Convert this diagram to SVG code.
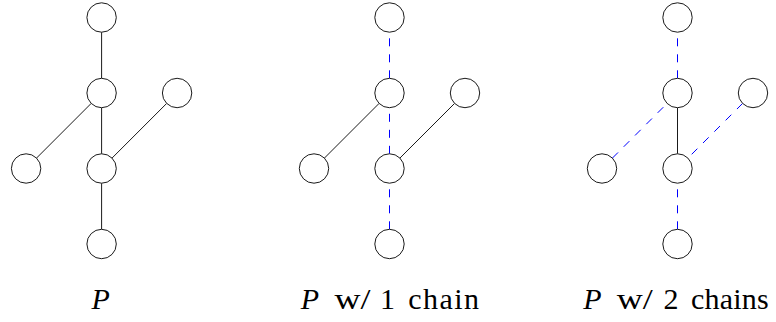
<svg xmlns="http://www.w3.org/2000/svg" width="776" height="322" viewBox="0 0 776 322">
<defs>
<style>
.n{fill:#ffffff;stroke:#000000;stroke-width:0.9}
.e{stroke:#000000;stroke-width:0.9}
.lbl{font-family:'Liberation Serif',serif;font-size:30px;fill:#000000}
</style>
</defs>
<rect width="776" height="322" fill="#ffffff"/>
<g id="connectors">
<line class="e" x1="101.6" y1="78.3" x2="101.6" y2="32.2"/>
<line class="e" x1="36.5" y1="158.1" x2="91.2" y2="103.4"/>
<line class="e" x1="101.6" y1="153.8" x2="101.6" y2="107.7"/>
<line class="e" x1="166.7" y1="103.4" x2="112" y2="158.1"/>
<line class="e" x1="101.6" y1="229.3" x2="101.6" y2="183.2"/>
<g stroke="#0000ff" stroke-width="1" stroke-dasharray="8 8" fill="none">
<line x1="389.5" y1="78.3" x2="389.5" y2="32.2"/>
<line x1="389.5" y1="153.8" x2="389.5" y2="107.7"/>
<line x1="389.5" y1="229.3" x2="389.5" y2="183.2"/>
<line x1="677.5" y1="78.3" x2="677.5" y2="32.2"/>
<line x1="612.4" y1="158.1" x2="667.1" y2="103.4"/>
<line x1="742.6" y1="103.4" x2="687.9" y2="158.1"/>
<line x1="677.5" y1="229.3" x2="677.5" y2="183.2"/>
</g>
<line class="e" x1="324.4" y1="158.1" x2="379.1" y2="103.4"/>
<line class="e" x1="454.6" y1="103.4" x2="399.9" y2="158.1"/>
<line class="e" x1="677.5" y1="153.8" x2="677.5" y2="107.7"/>
</g>
<g id="p1-top"><circle class="n" cx="101.6" cy="17.5" r="14.7"/></g>
<g id="p1-mid"><circle class="n" cx="101.6" cy="93" r="14.7"/></g>
<g id="p1-right"><circle class="n" cx="177.1" cy="93" r="14.7"/></g>
<g id="p1-left"><circle class="n" cx="26.1" cy="168.5" r="14.7"/></g>
<g id="p1-center"><circle class="n" cx="101.6" cy="168.5" r="14.7"/></g>
<g id="p1-bottom"><circle class="n" cx="101.6" cy="244" r="14.7"/></g>
<g id="p2-top"><circle class="n" cx="389.5" cy="17.5" r="14.7"/></g>
<g id="p2-mid"><circle class="n" cx="389.5" cy="93" r="14.7"/></g>
<g id="p2-right"><circle class="n" cx="465" cy="93" r="14.7"/></g>
<g id="p2-left"><circle class="n" cx="314" cy="168.5" r="14.7"/></g>
<g id="p2-center"><circle class="n" cx="389.5" cy="168.5" r="14.7"/></g>
<g id="p2-bottom"><circle class="n" cx="389.5" cy="244" r="14.7"/></g>
<g id="p3-top"><circle class="n" cx="677.5" cy="17.5" r="14.7"/></g>
<g id="p3-mid"><circle class="n" cx="677.5" cy="93" r="14.7"/></g>
<g id="p3-right"><circle class="n" cx="753" cy="93" r="14.7"/></g>
<g id="p3-left"><circle class="n" cx="602" cy="168.5" r="14.7"/></g>
<g id="p3-center"><circle class="n" cx="677.5" cy="168.5" r="14.7"/></g>
<g id="p3-bottom"><circle class="n" cx="677.5" cy="244" r="14.7"/></g>
<g id="labels">
<text class="lbl" x="91.5" y="309" font-family="Liberation Serif" font-style="italic">P</text>
<text class="lbl" y="309" font-family="Liberation Serif"><tspan font-style="italic" x="300.7">P</tspan><tspan x="334.5" textLength="36" lengthAdjust="spacingAndGlyphs">w/</tspan><tspan x="380">1</tspan><tspan x="408.3" textLength="70.7">chain</tspan></text>
<text class="lbl" y="309" font-family="Liberation Serif"><tspan font-style="italic" x="583.3">P</tspan><tspan x="616.7" textLength="36" lengthAdjust="spacingAndGlyphs">w/</tspan><tspan x="663.5">2</tspan><tspan x="691" textLength="77.7">chains</tspan></text>
</g>
</svg>
